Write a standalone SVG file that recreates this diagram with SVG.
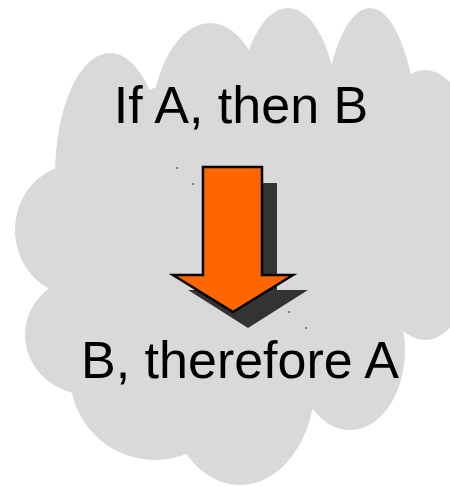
<svg xmlns="http://www.w3.org/2000/svg" width="450" height="486" viewBox="0 0 450 486">
<style>
.cloud ellipse{fill:#d9d9d9}
.lbl{font-family:"Comic Sans MS","Liberation Sans",sans-serif;font-size:52px;fill:#000;text-anchor:middle}
.speck{fill:#333}
</style>
<rect width="450" height="486" fill="#fff"/>
<g id="cloud" class="cloud">
<ellipse cx="230" cy="250" rx="175" ry="180"/>
<ellipse cx="110" cy="175" rx="55" ry="122"/>
<ellipse cx="210" cy="135" rx="60" ry="112"/>
<ellipse cx="288" cy="120" rx="50" ry="112"/>
<ellipse cx="370" cy="150" rx="48" ry="142"/>
<ellipse cx="425" cy="205" rx="60" ry="135"/>
<ellipse cx="75" cy="230" rx="60" ry="65"/>
<ellipse cx="90" cy="335" rx="65" ry="60"/>
<ellipse cx="155" cy="375" rx="85" ry="85"/>
<ellipse cx="240" cy="382" rx="75" ry="103"/>
<ellipse cx="350" cy="350" rx="55" ry="80"/>
</g>
<g id="premise"><text class="lbl" x="241" y="123">If A, then B</text></g>
<g id="conclusion"><text class="lbl" x="240" y="378">B, therefore A</text></g>
<g id="connectors">
<polygon points="218,183 277,183 277,290 308,290 248,328 188,290 218,290" fill="#333"/>
<polygon points="203,167 262,167 262,275 293,275 233,312 173,275 203,275" fill="#ff6600" stroke="#000" stroke-width="2.5" stroke-linejoin="miter"/>
<rect class="speck" x="176.5" y="167" width="1" height="2"/>
<rect class="speck" x="192.5" y="183" width="1" height="2"/>
<rect class="speck" x="288.5" y="311" width="1" height="2"/>
<rect class="speck" x="305.5" y="327" width="1" height="2"/>
</g>
</svg>
